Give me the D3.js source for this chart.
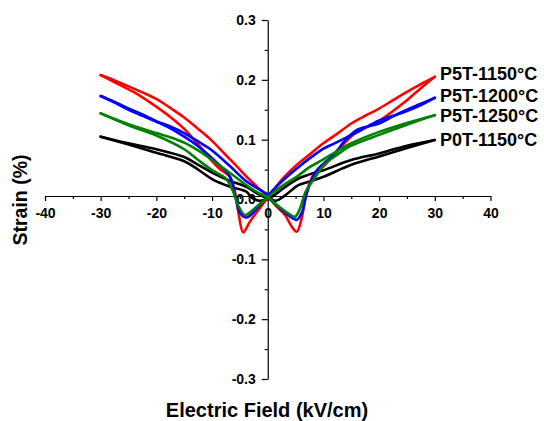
<!DOCTYPE html>
<html>
<head>
<meta charset="utf-8">
<script src="https://cdn.jsdelivr.net/npm/d3@7"></script>
<style>
  html, body { margin: 0; padding: 0; background: #fff; }
  svg { display: block; }
  text { font-family: Arial, "Liberation Sans", sans-serif; font-weight: bold; fill: #000; }
</style>
</head>
<body>
<svg id="chart" width="544" height="421"></svg>
<script>
// ---- data (E in kV/cm, strain in %) ----
const seriesNames = ["P5T-1150°C", "P5T-1200°C", "P5T-1250°C", "P0T-1150°C"];
const seriesColors = ["#ff0000", "#0000ff", "#008000", "#000000"];

const xTicks = [-40, -30, -20, -10, 0, 10, 20, 30, 40];
const xTickLabels = ["-40", "-30", "-20", "-10", "0", "10", "20", "30", "40"];
const yTicks = [-0.3, -0.2, -0.1, 0, 0.1, 0.2, 0.3];
const yTickLabels = ["-0.3", "-0.2", "-0.1", "0.0", "0.1", "0.2", "0.3"];

// red: P5T-1150 (up = field rising -30 -> +30, down = field falling +30 -> -30)
const redUp = [[-30,0.208],[-27.5,0.199],[-25,0.189],[-22.5,0.179],[-20,0.168],[-17.5,0.153],[-15,0.137],[-12.5,0.118],[-10,0.098],[-7.5,0.074],[-5,0.050],[-3.8,0.038],[-2,0.022],[0,0.005],[1.3,-0.009],[3.1,-0.026],[4.3,-0.045],[5.2,-0.054],[6.1,-0.031],[7.0,0.013],[8.2,0.041],[10.3,0.058],[12.5,0.082],[15.7,0.111],[17.5,0.120],[20,0.131],[22.5,0.148],[25,0.166],[27.5,0.186],[30,0.205]];
const redDown = [[30,0.205],[27.5,0.193],[25,0.180],[22.5,0.166],[20,0.152],[17.5,0.140],[15,0.127],[12.5,0.110],[10,0.094],[7.5,0.075],[5,0.056],[2.5,0.033],[0,0.003],[-1.4,-0.014],[-3.2,-0.037],[-4.4,-0.055],[-5.3,-0.020],[-5.9,0.013],[-6.8,0.038],[-8.5,0.050],[-10,0.064],[-12.5,0.092],[-15,0.118],[-17.5,0.138],[-20,0.155],[-23.2,0.175],[-25,0.184],[-27.5,0.196],[-30,0.208]];

// blue: P5T-1200
const blueUp = [[-30,0.173],[-27.5,0.163],[-25,0.152],[-22.5,0.142],[-20,0.131],[-17.5,0.122],[-15,0.111],[-12.5,0.097],[-10,0.082],[-6.8,0.056],[-3.8,0.030],[-0.8,0.013],[0,0.008],[1.5,-0.008],[3.5,-0.025],[5.2,-0.034],[6.2,-0.020],[7,0.010],[8.5,0.045],[10,0.060],[11.8,0.074],[14,0.100],[16.2,0.117],[20,0.127],[22.5,0.139],[25,0.150],[27.5,0.160],[30,0.170]];
const blueDown = [[30,0.170],[27.5,0.158],[25,0.148],[22.5,0.140],[20,0.132],[16.2,0.113],[14,0.103],[11.8,0.093],[10,0.085],[8,0.072],[5.5,0.054],[2.5,0.030],[0,0.006],[-1.4,-0.009],[-3.8,-0.030],[-5,-0.022],[-5.8,0.005],[-6.8,0.038],[-10,0.069],[-12.5,0.089],[-15,0.105],[-17.5,0.119],[-20,0.130],[-22.5,0.140],[-25,0.150],[-27.5,0.162],[-30,0.173]];

// green: P5T-1250
const greenUp = [[-30,0.144],[-25,0.126],[-20,0.111],[-17.5,0.104],[-15,0.095],[-12.5,0.082],[-10,0.066],[-7,0.046],[-4,0.025],[-1.5,0.010],[0,0.004],[1.5,-0.008],[3.5,-0.022],[4.9,-0.029],[5.8,-0.015],[6.8,0.013],[8.6,0.038],[10,0.057],[12.5,0.075],[15,0.090],[20,0.108],[25,0.125],[30,0.141]];
const greenDown = [[30,0.141],[25,0.128],[20,0.113],[15,0.094],[12.5,0.081],[10,0.067],[7.5,0.054],[5.5,0.040],[2.5,0.022],[0,0.004],[-1.5,-0.008],[-3,-0.020],[-4.1,-0.026],[-5.2,-0.012],[-6.3,0.015],[-7.5,0.035],[-10,0.049],[-12.5,0.066],[-15,0.084],[-20,0.107],[-25,0.124],[-30,0.144]];

// black: P0T-1150
const blackUp = [[-30,0.105],[-25,0.094],[-20,0.084],[-15,0.071],[-12.5,0.058],[-10,0.045],[-7,0.032],[-3.8,0.021],[-1.5,0.008],[0,0.002],[1.5,-0.002],[3,0.006],[5.5,0.024],[7.5,0.030],[10,0.038],[15,0.058],[20,0.072],[25,0.086],[30,0.0995]];
const blackDown = [[30,0.0995],[25,0.090],[20,0.077],[15,0.066],[10,0.049],[7.5,0.042],[5.5,0.035],[3,0.020],[1,0.006],[0,0.001],[-1.5,-0.002],[-3,0.004],[-3.8,0.013],[-7,0.022],[-10,0.034],[-12.5,0.050],[-15,0.064],[-20,0.078],[-25,0.092],[-30,0.105]];

const seriesBranches = [
  [redUp, redDown],
  [blueUp, blueDown],
  [greenUp, greenDown],
  [blackUp, blackDown]
];

// ---- layout ----
const svg = d3.select("#chart");
const x = d3.scaleLinear().domain([-40, 40]).range([45, 490.5]);
const y = d3.scaleLinear().domain([-0.3, 0.3]).range([379, 20]);
const xAxisY = y(0) - 3.5;

// x axis
const xMinor = d3.range(-35, 40, 10);
svg.append("g")
  .attr("transform", `translate(0,${xAxisY})`)
  .call(d3.axisBottom(x).tickValues(xMinor).tickSize(3).tickFormat("").tickSizeOuter(0))
  .call(g => g.select(".domain").remove());
const xg = svg.append("g")
  .attr("transform", `translate(0,${xAxisY})`)
  .call(d3.axisBottom(x).tickValues(xTicks).tickSize(5).tickPadding(7).tickSizeOuter(0)
    .tickFormat((d, i) => xTickLabels[i]));
xg.selectAll("text").style("font-size", "14px").attr("font-family", null);

// y axis
const yMinor = d3.range(-0.25, 0.3, 0.1);
svg.append("g")
  .attr("transform", `translate(${x(0)},0)`)
  .call(d3.axisLeft(y).tickValues(yMinor).tickSize(3).tickFormat("").tickSizeOuter(0))
  .call(g => g.select(".domain").remove());
const yg = svg.append("g")
  .attr("transform", `translate(${x(0)},0)`)
  .call(d3.axisLeft(y).tickValues(yTicks).tickSize(6).tickPadding(6).tickSizeOuter(0)
    .tickFormat((d, i) => yTickLabels[i]));
yg.selectAll("text").style("font-size", "14px").attr("font-family", null);

svg.selectAll(".domain, .tick line").attr("stroke", "#000").attr("stroke-width", 1.2);

// curves
const line = d3.line().x(d => x(d[0])).y(d => y(d[1])).curve(d3.curveCatmullRom.alpha(0.5));
const drawOrder = [3, 0, 1, 2];
drawOrder.forEach(i => {
  seriesBranches[i].forEach(branch => {
    svg.append("path")
      .datum(branch)
      .attr("d", line)
      .attr("fill", "none")
      .attr("stroke", seriesColors[i])
      .attr("stroke-width", 2.6)
      .attr("stroke-linejoin", "round")
      .attr("stroke-linecap", "round");
  });
});

// legend labels
const legendY = [80, 101.5, 121.5, 145.5];
seriesNames.forEach((name, i) => {
  svg.append("text")
    .attr("x", 440)
    .attr("y", legendY[i])
    .style("font-size", "18px")
    .text(name);
});

// axis titles
svg.append("text")
  .attr("x", 267)
  .attr("y", 417)
  .attr("text-anchor", "middle")
  .style("font-size", "20px")
  .text("Electric Field (kV/cm)");

svg.append("text")
  .attr("transform", "translate(27,200) rotate(-90)")
  .attr("text-anchor", "middle")
  .style("font-size", "19.5px")
  .text("Strain (%)");
</script>
</body>
</html>
